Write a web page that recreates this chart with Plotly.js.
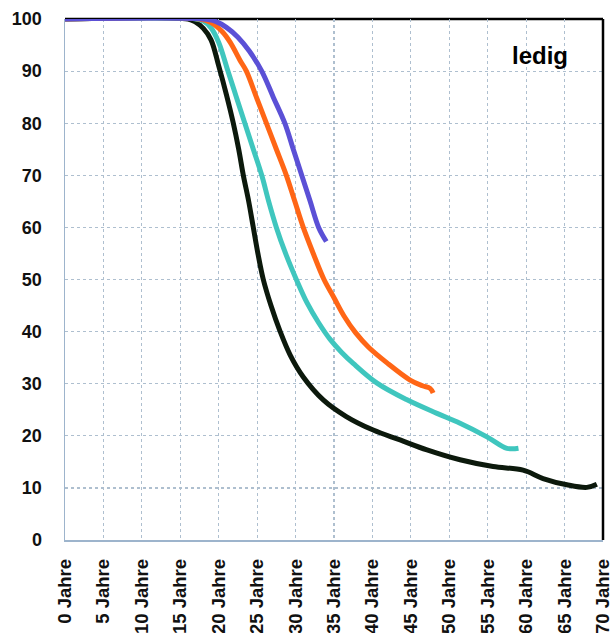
<!DOCTYPE html>
<html>
<head>
<meta charset="utf-8">
<script src="https://cdn.plot.ly/plotly-3.0.1.min.js"></script>
<style>html,body{margin:0;padding:0;background:#fff;}#chart{width:614px;height:633px;}</style>
</head>
<body>
<div id="chart"></div>
<script>
// Tick positions and labels
const xTickVals = [0, 5, 10, 15, 20, 25, 30, 35, 40, 45, 50, 55, 60, 65, 70];
const xTickText = ["0 Jahre", "5 Jahre", "10 Jahre", "15 Jahre", "20 Jahre", "25 Jahre", "30 Jahre", "35 Jahre", "40 Jahre", "45 Jahre", "50 Jahre", "55 Jahre", "60 Jahre", "65 Jahre", "70 Jahre"];
const yTickVals = [0, 10, 20, 30, 40, 50, 60, 70, 80, 90, 100];

// Series (age in years, percent still single)
const blackX = [0, 16, 17, 18, 19, 20, 21, 21.9, 22.6, 23.2, 23.9, 24.5, 25.1, 25.8, 26.8, 28, 29.3, 31, 33.6, 36.6, 40.1, 43.6, 47.1, 51.4, 55.7, 59.6, 62.2, 65.3, 67.9, 69.2];
const blackY = [100, 100, 99.4, 98.2, 96, 91, 85.5, 80, 75, 70, 65, 60, 55, 50, 45, 40, 35.5, 31.3, 26.9, 23.7, 21.1, 19.2, 17.3, 15.4, 14.1, 13.4, 11.8, 10.6, 10.1, 10.7];

const cyanX = [0, 17, 18, 19, 20, 21.2, 22.3, 23.4, 24.5, 25.6, 26.5, 27.5, 28.7, 30.1, 31.5, 33, 34.5, 36, 37.5, 40.6, 44.5, 48.4, 51.4, 54.9, 57.5, 59];
const cyanY = [100, 100, 99.6, 98.3, 95.5, 90, 85, 80, 75, 70, 65, 60, 55, 50, 45.5, 41.7, 38.5, 36, 33.9, 30.1, 26.9, 24.3, 22.4, 19.8, 17.6, 17.6];

const orangeX = [0, 17.5, 19, 20.5, 21.5, 22.8, 23.6, 24.9, 26.2, 27.5, 28.8, 29.9, 31, 32.3, 33.7, 35, 36.3, 37.8, 39.5, 41.9, 44.9, 46.5, 47.5, 47.9];
const orangeY = [100, 100, 99.3, 97.5, 95.5, 92, 90, 85, 80, 75, 70, 65, 60, 55, 50, 46.5, 43, 39.8, 37, 34, 30.7, 29.6, 29.1, 28.2];

const blueX = [0, 18, 19.5, 21, 22.5, 24, 25.6, 27.1, 28.6, 29.7, 30.8, 31.9, 33, 34];
const blueY = [100, 100, 99.6, 98.4, 96.5, 93.8, 90, 85, 80, 75, 70, 65, 60, 57.3];

const labelText = "ledig";

function line(x, y, color) {
  return {
    x: x, y: y, type: 'scatter', mode: 'lines',
    line: {color: color, width: 5, shape: 'spline', smoothing: 1},
    hoverinfo: 'skip', showlegend: false
  };
}

const data = [
  line(blackX, blackY, '#0c190c'),
  line(cyanX, cyanY, '#3fc6be'),
  line(orangeX, orangeY, '#ff6616'),
  line(blueX, blueY, '#5b50d6')
];

const gridColor = '#aebfcf';
const axisColor = '#9db4cc';
const fontFam = '"Liberation Sans", Arial, sans-serif';

const layout = {
  width: 614, height: 633,
  margin: {l: 65, r: 11, t: 19, b: 93, pad: 0},
  paper_bgcolor: '#ffffff',
  plot_bgcolor: '#ffffff',
  showlegend: false,
  font: {family: fontFam, color: '#111111'},
  xaxis: {
    range: [0, 70],
    tickmode: 'array', tickvals: xTickVals, ticktext: xTickText,
    tickangle: -90,
    tickfont: {size: 18.5, color: '#111111', family: fontFam, weight: 'bold'},
    ticks: '', ticklabelstandoff: 10,
    showgrid: true, gridcolor: gridColor, gridwidth: 1.2, griddash: 'dot',
    zeroline: false,
    showline: true, linecolor: axisColor, linewidth: 1.5,
    fixedrange: true
  },
  yaxis: {
    range: [0, 100],
    tickmode: 'array', tickvals: yTickVals,
    tickfont: {size: 18, color: '#111111', family: fontFam, weight: 'bold'},
    ticks: '', ticklabelstandoff: 18,
    showgrid: true, gridcolor: gridColor, gridwidth: 1.2, griddash: 'dot',
    zeroline: false,
    showline: true, linecolor: axisColor, linewidth: 1.5,
    fixedrange: true
  },
  shapes: [
    {type: 'line', xref: 'paper', yref: 'paper', x0: 0, x1: 1, y0: 1, y1: 1, line: {color: '#000000', width: 2.5}, layer: 'below'},
    {type: 'line', xref: 'paper', yref: 'paper', x0: 1, x1: 1, y0: 0, y1: 1, line: {color: '#000000', width: 2.5}, layer: 'above'}
  ],
  annotations: [
    {text: '<b>' + labelText + '</b>', x: 61.8, y: 93, xref: 'x', yref: 'y', showarrow: false,
     font: {size: 24, color: '#000000', family: fontFam}, xanchor: 'center', yanchor: 'middle'}
  ]
};

Plotly.newPlot('chart', data, layout, {displayModeBar: false, staticPlot: true});
</script>
</body>
</html>
